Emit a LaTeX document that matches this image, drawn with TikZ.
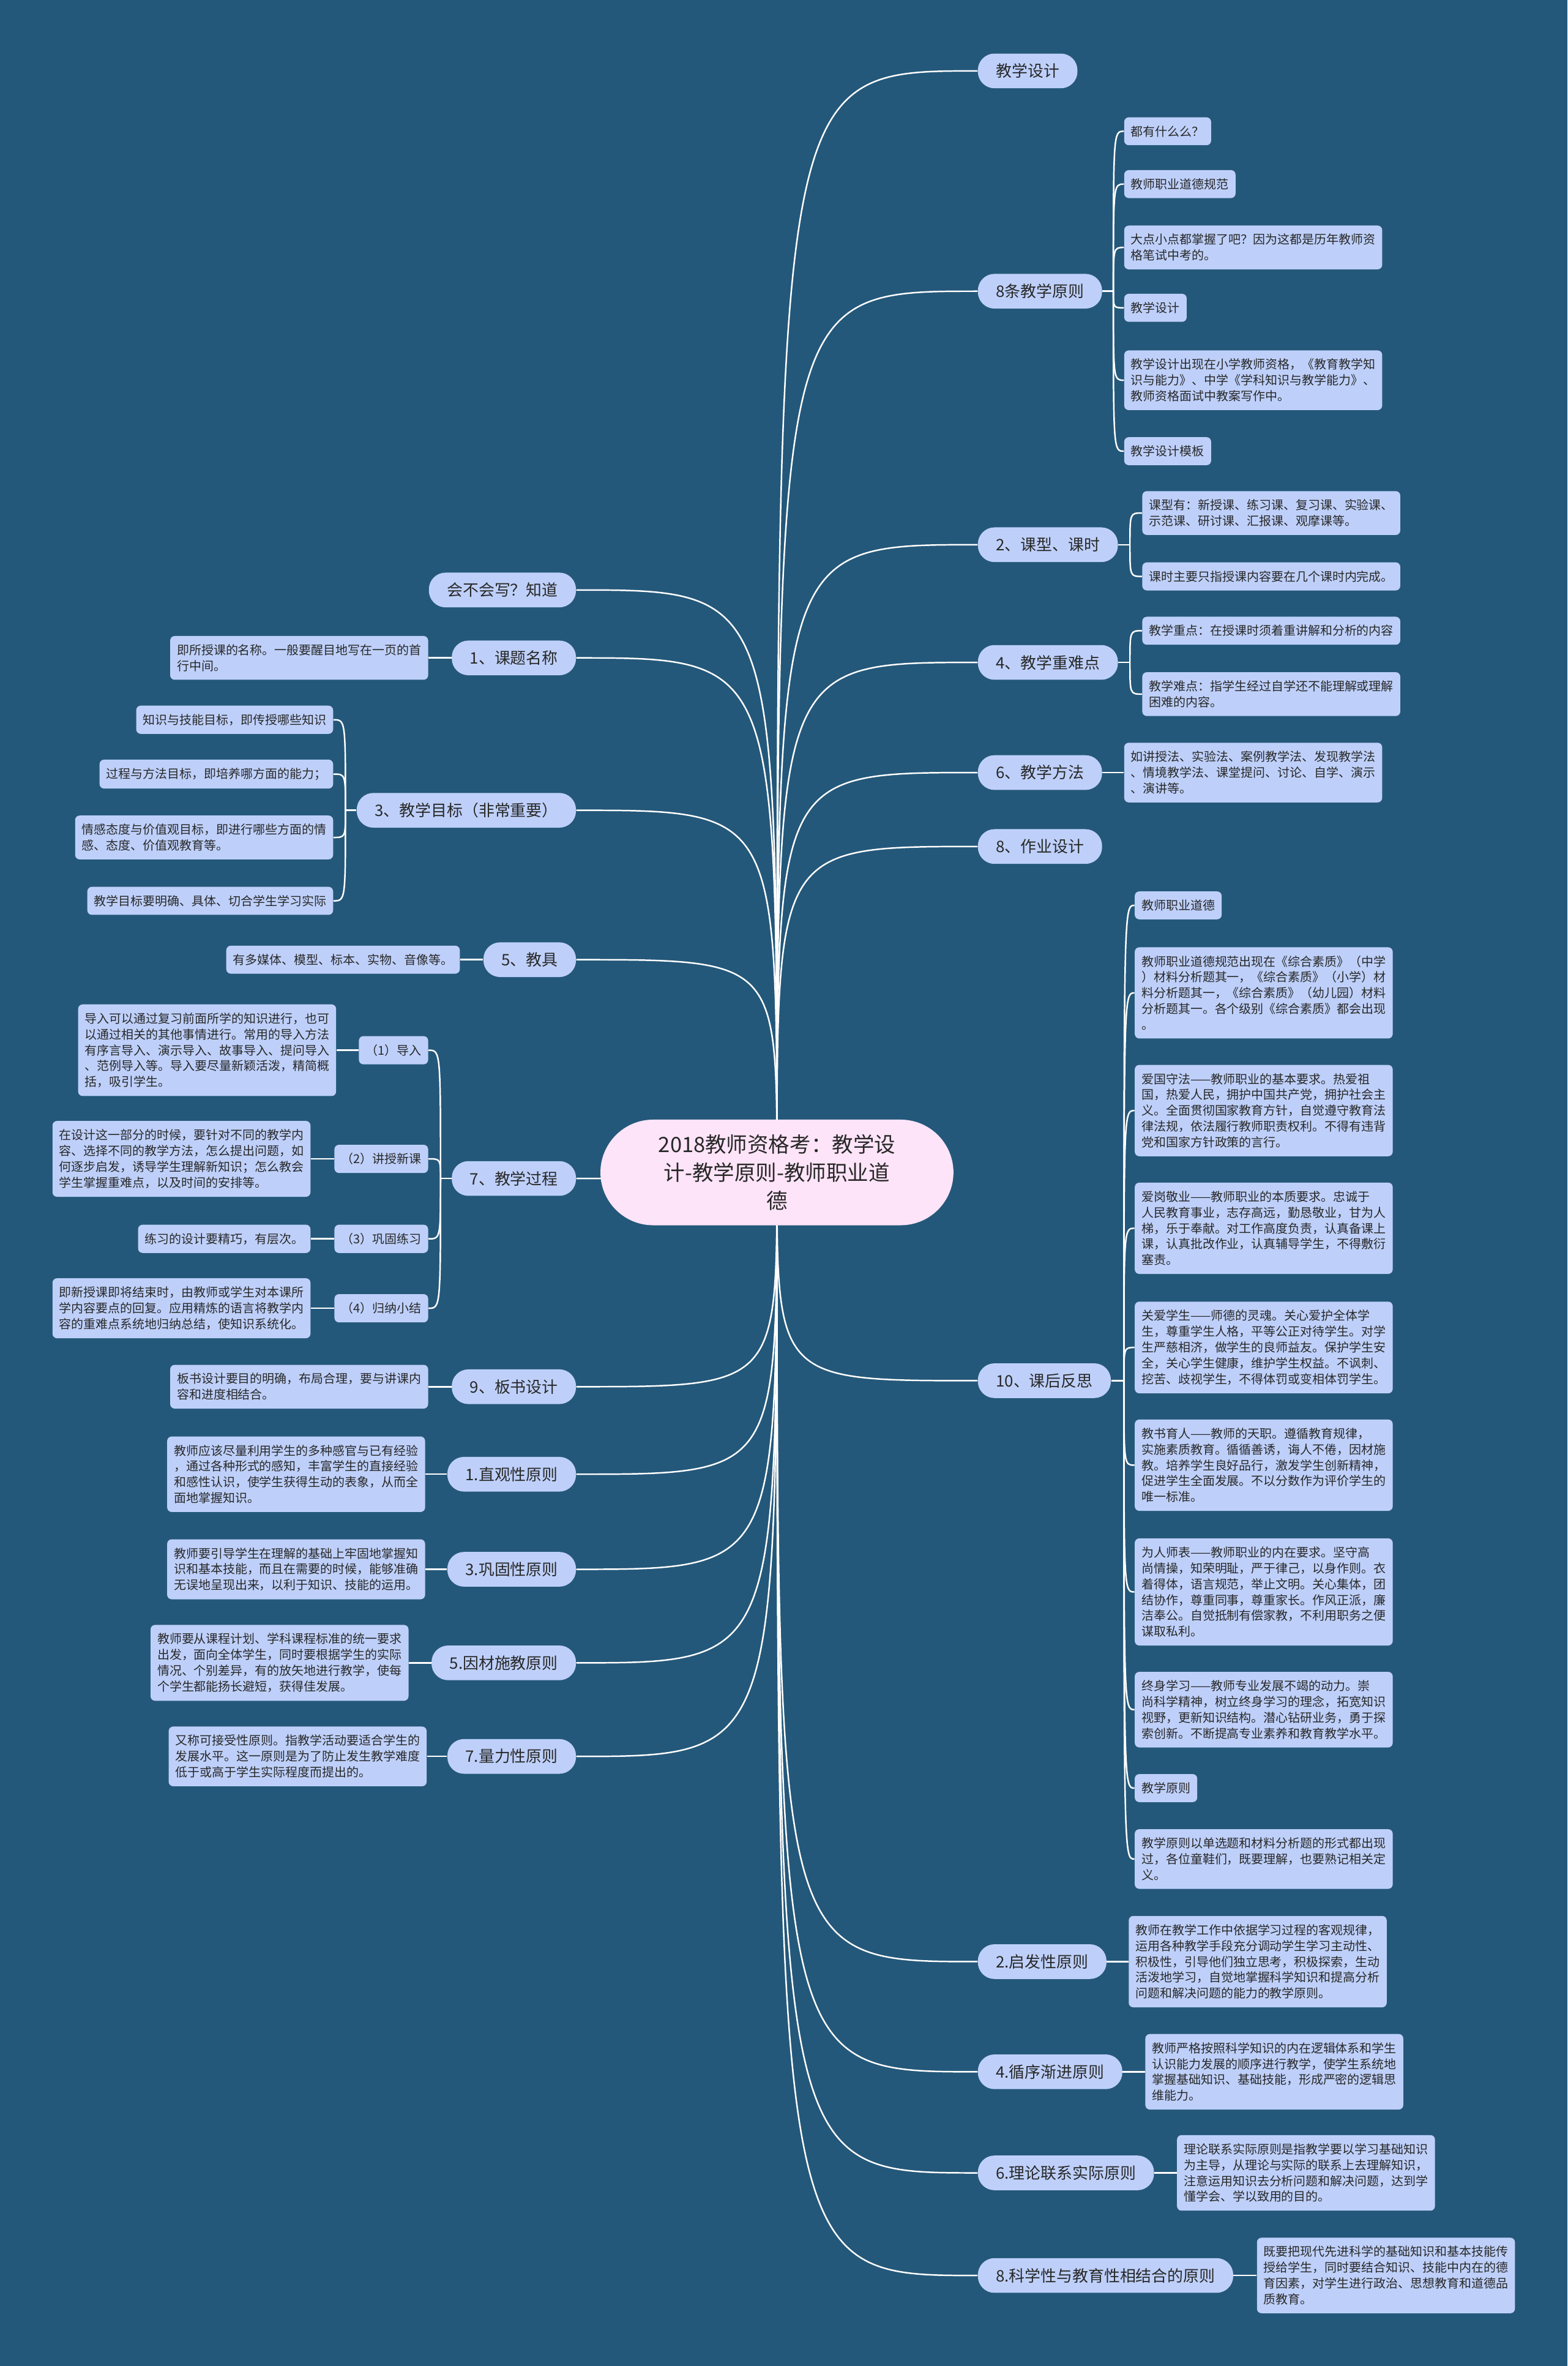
\documentclass[tikz,border=0pt]{standalone}
\usepackage{fontspec}
\setmainfont{Noto Sans CJK SC}
\usetikzlibrary{backgrounds}
\definecolor{bgc}{RGB}{36,88,122}
\definecolor{leafc}{RGB}{190,208,250}
\definecolor{rootc}{RGB}{253,228,248}
\definecolor{txt}{RGB}{40,40,40}
\tikzset{
    link/.style={draw=white, line width=1pt},
    root/.style={fill=rootc, rounded corners=35pt, minimum width=234pt, minimum height=70pt,
        align=center, text=txt, font=\fontsize{14}{18.5}\selectfont},
    topic/.style={fill=leafc, rounded corners=11pt, minimum height=23pt, inner xsep=12pt,
        text=txt, font=\fontsize{10.5}{13}\selectfont},
    leaf/.style={fill=leafc, rounded corners=3pt, inner xsep=4.5pt, inner ysep=5.5pt,
        align=left, text=txt, font=\fontsize{8.1}{10.5}\selectfont}
}
\begin{document}
\begin{tikzpicture}[x=1pt, y=1pt]
    \useasboundingbox (0,0) rectangle (1039,-1568);
    \node[root] (root) at (515,-777) {2018教师资格考：教学设\\计-教学原则-教师职业道\\德};

    \node[topic, anchor=west] (jxsj) at (648,-47) {教学设计};
    \node[topic, anchor=west] (yz8) at (648,-193) {8条教学原则};
    \node[topic, anchor=west] (kx) at (648,-361) {2、课型、课时};
    \node[topic, anchor=west] (zn) at (648,-439) {4、教学重难点};
    \node[topic, anchor=west] (ff) at (648,-512) {6、教学方法};
    \node[topic, anchor=west] (zy) at (648,-561) {8、作业设计};
    \node[topic, anchor=west] (fs) at (648,-915) {10、课后反思};
    \node[topic, anchor=west] (qf) at (648,-1300) {2.启发性原则};
    \node[topic, anchor=west] (xx) at (648,-1373) {4.循序渐进原则};
    \node[topic, anchor=west] (lx) at (648,-1440) {6.理论联系实际原则};
    \node[topic, anchor=west] (kj) at (648,-1508) {8.科学性与教育性相结合的原则};

    \node[topic, anchor=east] (hbh) at (382,-391) {会不会写？知道};
    \node[topic, anchor=east] (ktmc) at (382,-436) {1、课题名称};
    \node[topic, anchor=east] (mb) at (382,-537) {3、教学目标（非常重要）};
    \node[topic, anchor=east] (jj) at (382,-636) {5、教具};
    \node[topic, anchor=east] (gc) at (382,-781) {7、教学过程};
    \node[topic, anchor=east] (bs) at (382,-919) {9、板书设计};
    \node[topic, anchor=east] (zg) at (382,-977) {1.直观性原则};
    \node[topic, anchor=east] (gg) at (382,-1040) {3.巩固性原则};
    \node[topic, anchor=east] (yc) at (382,-1102) {5.因材施教原则};
    \node[topic, anchor=east] (ll) at (382,-1164) {7.量力性原则};

    \node[leaf, anchor=west] (yz8a) at (745,-87) {都有什么么？};
    \node[leaf, anchor=west] (yz8b) at (745,-122) {教师职业道德规范};
    \node[leaf, anchor=west] (yz8c) at (745,-164) {大点小点都掌握了吧？因为这都是历年教师资\\格笔试中考的。};
    \node[leaf, anchor=west] (yz8d) at (745,-204) {教学设计};
    \node[leaf, anchor=west] (yz8e) at (745,-252) {教学设计出现在小学教师资格，《教育教学知\\识与能力》、中学《学科知识与教学能力》、\\教师资格面试中教案写作中。};
    \node[leaf, anchor=west] (yz8f) at (745,-299) {教学设计模板};
    \node[leaf, anchor=west] (kxa) at (757,-340) {课型有：新授课、练习课、复习课、实验课、\\示范课、研讨课、汇报课、观摩课等。};
    \node[leaf, anchor=west] (kxb) at (757,-382) {课时主要只指授课内容要在几个课时内完成。};
    \node[leaf, anchor=west] (zna) at (757,-418) {教学重点：在授课时须着重讲解和分析的内容};
    \node[leaf, anchor=west] (znb) at (757,-460) {教学难点：指学生经过自学还不能理解或理解\\困难的内容。};
    \node[leaf, anchor=west] (ffa) at (745,-512) {如讲授法、实验法、案例教学法、发现教学法\\、情境教学法、课堂提问、讨论、自学、演示\\、演讲等。};
    \node[leaf, anchor=west] (fsa) at (752,-600) {教师职业道德};
    \node[leaf, anchor=west] (fsb) at (752,-658) {教师职业道德规范出现在《综合素质》（中学\\）材料分析题其一，《综合素质》（小学）材\\料分析题其一，《综合素质》（幼儿园）材料\\分析题其一。各个级别《综合素质》都会出现\\。};
    \node[leaf, anchor=west] (fsc) at (752,-736) {爱国守法——教师职业的基本要求。热爱祖\\国，热爱人民，拥护中国共产党，拥护社会主\\义。全面贯彻国家教育方针，自觉遵守教育法\\律法规，依法履行教师职责权利。不得有违背\\党和国家方针政策的言行。};
    \node[leaf, anchor=west] (fsd) at (752,-814) {爱岗敬业——教师职业的本质要求。忠诚于\\人民教育事业，志存高远，勤恳敬业，甘为人\\梯，乐于奉献。对工作高度负责，认真备课上\\课，认真批改作业，认真辅导学生，不得敷衍\\塞责。};
    \node[leaf, anchor=west] (fse) at (752,-893) {关爱学生——师德的灵魂。关心爱护全体学\\生，尊重学生人格，平等公正对待学生。对学\\生严慈相济，做学生的良师益友。保护学生安\\全，关心学生健康，维护学生权益。不讽刺、\\挖苦、歧视学生，不得体罚或变相体罚学生。};
    \node[leaf, anchor=west] (fsf) at (752,-971) {教书育人——教师的天职。遵循教育规律，\\实施素质教育。循循善诱，诲人不倦，因材施\\教。培养学生良好品行，激发学生创新精神，\\促进学生全面发展。不以分数作为评价学生的\\唯一标准。};
    \node[leaf, anchor=west] (fsg) at (752,-1055) {为人师表——教师职业的内在要求。坚守高\\尚情操，知荣明耻，严于律己，以身作则。衣\\着得体，语言规范，举止文明。关心集体，团\\结协作，尊重同事，尊重家长。作风正派，廉\\洁奉公。自觉抵制有偿家教，不利用职务之便\\谋取私利。};
    \node[leaf, anchor=west] (fsh) at (752,-1133) {终身学习——教师专业发展不竭的动力。崇\\尚科学精神，树立终身学习的理念，拓宽知识\\视野，更新知识结构。潜心钻研业务，勇于探\\索创新。不断提高专业素养和教育教学水平。};
    \node[leaf, anchor=west] (fsi) at (752,-1185) {教学原则};
    \node[leaf, anchor=west] (fsj) at (752,-1232) {教学原则以单选题和材料分析题的形式都出现\\过，各位童鞋们，既要理解，也要熟记相关定\\义。};
    \node[leaf, anchor=west] (qfa) at (748,-1300) {教师在教学工作中依据学习过程的客观规律，\\运用各种教学手段充分调动学生学习主动性、\\积极性，引导他们独立思考，积极探索，生动\\活泼地学习，自觉地掌握科学知识和提高分析\\问题和解决问题的能力的教学原则。};
    \node[leaf, anchor=west] (xxa) at (759,-1373) {教师严格按照科学知识的内在逻辑体系和学生\\认识能力发展的顺序进行教学，使学生系统地\\掌握基础知识、基础技能，形成严密的逻辑思\\维能力。};
    \node[leaf, anchor=west] (lxa) at (780,-1440) {理论联系实际原则是指教学要以学习基础知识\\为主导，从理论与实际的联系上去理解知识，\\注意运用知识去分析问题和解决问题，达到学\\懂学会、学以致用的目的。};
    \node[leaf, anchor=west] (kja) at (833,-1508) {既要把现代先进科学的基础知识和基本技能传\\授给学生，同时要结合知识、技能中内在的德\\育因素，对学生进行政治、思想教育和道德品\\质教育。};

    \node[leaf, anchor=east] (ktmca) at (284,-436) {即所授课的名称。一般要醒目地写在一页的首\\行中间。};
    \node[leaf, anchor=east] (mba) at (221,-477) {知识与技能目标，即传授哪些知识};
    \node[leaf, anchor=east] (mbb) at (221,-513) {过程与方法目标，即培养哪方面的能力；};
    \node[leaf, anchor=east] (mbc) at (221,-555) {情感态度与价值观目标，即进行哪些方面的情\\感、态度、价值观教育等。};
    \node[leaf, anchor=east] (mbd) at (221,-597) {教学目标要明确、具体、切合学生学习实际};
    \node[leaf, anchor=east] (jja) at (305,-636) {有多媒体、模型、标本、实物、音像等。};
    \node[leaf, anchor=east] (gca) at (284,-696) {（1）导入};
    \node[leaf, anchor=east] (gcb) at (284,-768) {（2）讲授新课};
    \node[leaf, anchor=east] (gcc) at (284,-821) {（3）巩固练习};
    \node[leaf, anchor=east] (gcd) at (284,-867) {（4）归纳小结};
    \node[leaf, anchor=east] (gcaa) at (223,-696) {导入可以通过复习前面所学的知识进行，也可\\以通过相关的其他事情进行。常用的导入方法\\有序言导入、演示导入、故事导入、提问导入\\、范例导入等。导入要尽量新颖活泼，精简概\\括，吸引学生。};
    \node[leaf, anchor=east] (gcba) at (206,-768) {在设计这一部分的时候，要针对不同的教学内\\容、选择不同的教学方法，怎么提出问题，如\\何逐步启发，诱导学生理解新知识；怎么教会\\学生掌握重难点，以及时间的安排等。};
    \node[leaf, anchor=east] (gcca) at (206,-821) {练习的设计要精巧，有层次。};
    \node[leaf, anchor=east] (gcda) at (206,-867) {即新授课即将结束时，由教师或学生对本课所\\学内容要点的回复。应用精炼的语言将教学内\\容的重难点系统地归纳总结，使知识系统化。};
    \node[leaf, anchor=east] (bsa) at (284,-919) {板书设计要目的明确，布局合理，要与讲课内\\容和进度相结合。};
    \node[leaf, anchor=east] (zga) at (282,-977) {教师应该尽量利用学生的多种感官与已有经验\\，通过各种形式的感知，丰富学生的直接经验\\和感性认识，使学生获得生动的表象，从而全\\面地掌握知识。};
    \node[leaf, anchor=east] (gga) at (282,-1040) {教师要引导学生在理解的基础上牢固地掌握知\\识和基本技能，而且在需要的时候，能够准确\\无误地呈现出来，以利于知识、技能的运用。};
    \node[leaf, anchor=east] (yca) at (271,-1102) {教师要从课程计划、学科课程标准的统一要求\\出发，面向全体学生，同时要根据学生的实际\\情况、个别差异，有的放矢地进行教学，使每\\个学生都能扬长避短，获得佳发展。};
    \node[leaf, anchor=east] (lla) at (283,-1164) {又称可接受性原则。指教学活动要适合学生的\\发展水平。这一原则是为了防止发生教学难度\\低于或高于学生实际程度而提出的。};

    \coordinate (yz8s) at (738,-193);
    \coordinate (kxs) at (749,-361);
    \coordinate (zns) at (749,-439);
    \coordinate (fss) at (745,-915);
    \coordinate (mbs) at (229,-537);
    \coordinate (gcs) at (292,-781);

    \begin{pgfonlayer}{background}
        \fill[bgc] (0,0) rectangle (1039,-1568);
        \foreach \t in {jxsj,yz8,kx,zn,ff,zy,fs,qf,xx,lx,kj}
            \draw[link] (root.center) .. controls (root.center |- \t.west) .. (\t.west);
        \foreach \t in {hbh,ktmc,mb,jj,gc,bs,zg,gg,yc,ll}
            \draw[link] (root.center) .. controls (root.center |- \t.east) .. (\t.east);

        \draw[link] (yz8.east) -- (yz8s);
        \foreach \l in {yz8a,yz8b,yz8c,yz8d,yz8e,yz8f}
            \draw[link] (yz8s) .. controls (yz8s |- \l.west) .. (\l.west);
        \draw[link] (kx.east) -- (kxs);
        \foreach \l in {kxa,kxb}
            \draw[link] (kxs) .. controls (kxs |- \l.west) .. (\l.west);
        \draw[link] (zn.east) -- (zns);
        \foreach \l in {zna,znb}
            \draw[link] (zns) .. controls (zns |- \l.west) .. (\l.west);
        \draw[link] (fs.east) -- (fss);
        \foreach \l in {fsa,fsb,fsc,fsd,fse,fsf,fsg,fsh,fsi,fsj}
            \draw[link] (fss) .. controls (fss |- \l.west) .. (\l.west);
        \draw[link] (ff.east) -- (ffa.west);
        \draw[link] (qf.east) -- (qfa.west);
        \draw[link] (xx.east) -- (xxa.west);
        \draw[link] (lx.east) -- (lxa.west);
        \draw[link] (kj.east) -- (kja.west);

        \draw[link] (mb.west) -- (mbs);
        \foreach \l in {mba,mbb,mbc,mbd}
            \draw[link] (mbs) .. controls (mbs |- \l.east) .. (\l.east);
        \draw[link] (gc.west) -- (gcs);
        \foreach \l in {gca,gcb,gcc,gcd}
            \draw[link] (gcs) .. controls (gcs |- \l.east) .. (\l.east);
        \draw[link] (ktmc.west) -- (ktmca.east);
        \draw[link] (jj.west) -- (jja.east);
        \draw[link] (gca.west) -- (gcaa.east);
        \draw[link] (gcb.west) -- (gcba.east);
        \draw[link] (gcc.west) -- (gcca.east);
        \draw[link] (gcd.west) -- (gcda.east);
        \draw[link] (bs.west) -- (bsa.east);
        \draw[link] (zg.west) -- (zga.east);
        \draw[link] (gg.west) -- (gga.east);
        \draw[link] (yc.west) -- (yca.east);
        \draw[link] (ll.west) -- (lla.east);
    \end{pgfonlayer}
\end{tikzpicture}
\end{document}
